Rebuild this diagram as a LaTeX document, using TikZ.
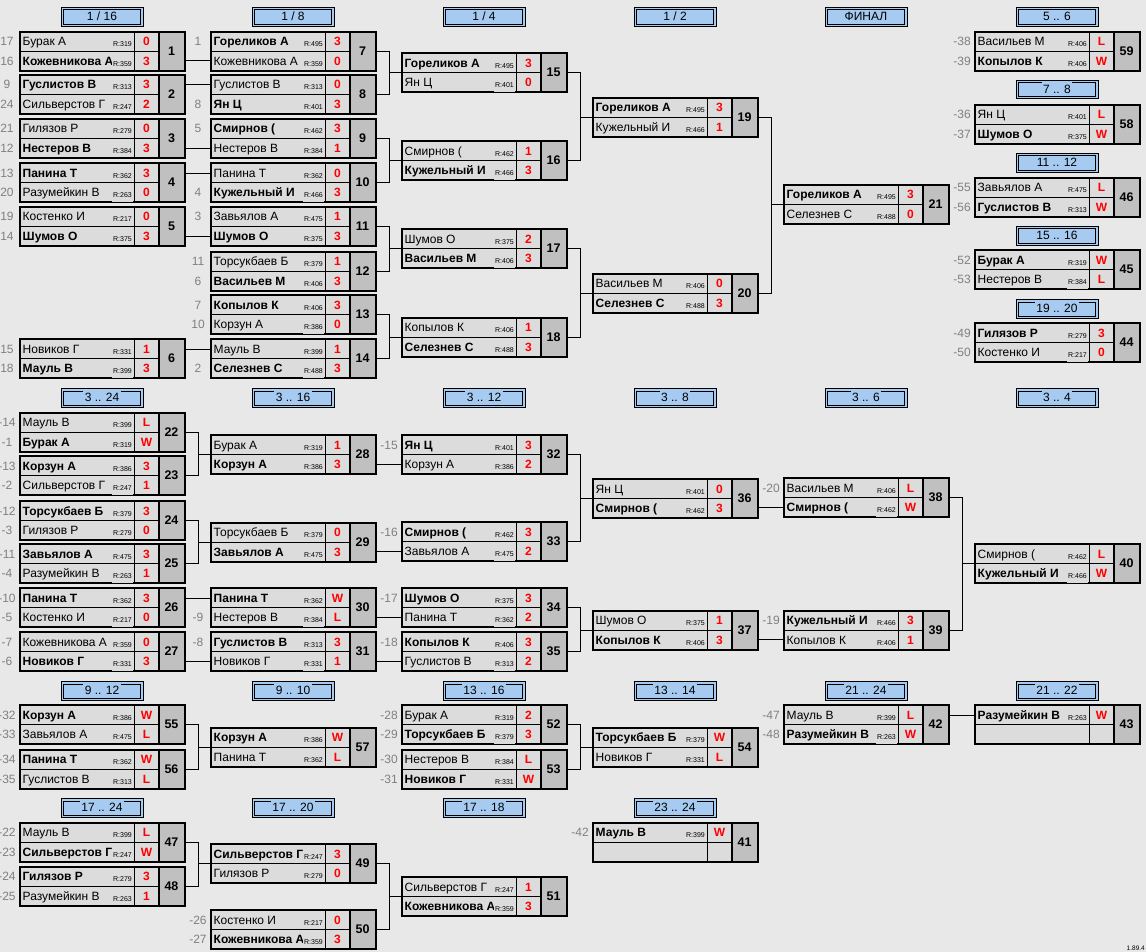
\documentclass[tikz,border=0pt]{standalone}
\usepackage{fontspec}
\setmainfont{Liberation Sans}
\definecolor{bgc}{RGB}{232,232,232}
\definecolor{cellc}{RGB}{220,220,220}
\definecolor{numc}{RGB}{192,192,192}
\definecolor{hblue}{RGB}{166,202,240}
\definecolor{seedgray}{RGB}{128,128,128}
\definecolor{scorered}{RGB}{255,0,0}
\tikzset{
  connline/.style={line width=1pt},
  mbox/.style={draw, line width=2pt, minimum width=165pt, minimum height=39pt, inner sep=0pt, outer sep=0pt, anchor=north west},
  namer/.style={anchor=base west, inner sep=0pt, font=\fontsize{12}{14}\selectfont},
  nameb/.style={anchor=base west, inner sep=0pt, font=\fontsize{12}{14}\selectfont\bfseries},
  ratet/.style={anchor=base east, inner sep=0pt, font=\fontsize{7}{8}\selectfont},
  scoret/.style={anchor=base, inner sep=0pt, text=scorered, font=\fontsize{12}{14}\selectfont\bfseries},
  seedt/.style={anchor=base, inner sep=0pt, text=seedgray, font=\fontsize{12}{14}\selectfont},
  numt/.style={anchor=base, inner sep=0pt, font=\fontsize{12.5}{14}\selectfont\bfseries},
  hdrbox/.style={draw, fill=hblue, line width=1pt, minimum width=82pt, minimum height=18.5pt, inner sep=0pt, outer sep=0pt},
  hdrtxt/.style={anchor=base, fill=hblue, inner xsep=1.5pt, inner ysep=0pt, text height=11pt, text depth=1pt, font=\fontsize{12}{14}\selectfont},
}
\newcommand\MBox[3]{%
  \fill[cellc] (#2,#3) rectangle ++(139,39);
  \fill[numc] (#2+139,#3) rectangle ++(26,39);
  \draw[line width=1pt] (#2,#3+19.5) -- ++(139,0);
  \draw[line width=1pt] (#2+114,#3) -- ++(0,39);
  \draw[line width=2pt] (#2+139,#3) -- ++(0,39);
  \node[mbox] (m#1) at (#2,#3) {};
  \coordinate (m#1r1) at (#2,#3+9.75);
  \coordinate (m#1r2) at (#2,#3+29.25);
  \node[numt] (m#1n) at (#2+151.5,#3+23.6) {#1};
}
\newcommand\MRow[8]{%
  \node[#5] (t#1) at (#2+2.5,#3+14) {#6};
  \fill[cellc] (#2+92,#3+1.2) rectangle (#2+113.4,#3+18.8);
  \node[ratet] (r#1) at (#2+112,#3+15) {#7};
  \node[scoret] (s#1) at (#2+126.5,#3+14) {#8};
  \node[seedt] (d#1) at (#2-13,#3+14) {#4};
}
\newcommand\Match[3]{\def\curid{#1}\def\curx{#2}\def\cury{#3}\MBox{#1}{#2}{#3}}
\newcommand\RowA[5]{\MRow{\curid a}{\curx}{\cury}{#1}{#2}{#3}{#4}{#5}}
\newcommand\RowB[5]{\MRow{\curid b}{\curx}{\cury+19.5}{#1}{#2}{#3}{#4}{#5}}
\newcommand\Hdr[4]{%
  \node[hdrbox] (h#1) at (#2,#3+9.75) {};
  \draw[line width=1pt] (#2-38.8,#3+2.7) rectangle (#2+38.8,#3+16.8);
  \node[hdrtxt] (ht#1) at (#2,#3+13.4) {#4};
}
\newcommand\Straight[3]{\draw[connline] (m#1.east |- m#2r#3) -- (m#2r#3);}
\newcommand\Bracket[3]{\draw[connline] (m#1.east) -- ++(13,0) coordinate (k#3) |- (m#2.east);
  \draw[connline] (k#3 |- m#3.west) -- (m#3.west);}
\begin{document}
\begin{tikzpicture}[x=1pt,y=-1pt]
\useasboundingbox (0,0) rectangle (1146,952);
\fill[bgc] (0,0) rectangle (1146,952);
% headers
\Hdr{a1}{102}{7.3}{1 / 16}
\Hdr{a2}{293}{7.3}{1 / 8}
\Hdr{a3}{484}{7.3}{1 / 4}
\Hdr{a4}{675}{7.3}{1 / 2}
\Hdr{a5}{866}{7.3}{ФИНАЛ}
\Hdr{a6}{1057}{7.3}{5 .. 6}
\Hdr{r2}{1057}{80}{7 .. 8}
\Hdr{r3}{1057}{153.3}{11 .. 12}
\Hdr{r4}{1057}{226.3}{15 .. 16}
\Hdr{r5}{1057}{299.3}{19 .. 20}
\Hdr{b1}{102}{388.3}{3 .. 24}
\Hdr{b2}{293}{388.3}{3 .. 16}
\Hdr{b3}{484}{388.3}{3 .. 12}
\Hdr{b4}{675}{388.3}{3 .. 8}
\Hdr{b5}{866}{388.3}{3 .. 6}
\Hdr{b6}{1057}{388.3}{3 .. 4}
\Hdr{c1}{102}{681.3}{9 .. 12}
\Hdr{c2}{293}{681.3}{9 .. 10}
\Hdr{c3}{484}{681.3}{13 .. 16}
\Hdr{c4}{675}{681.3}{13 .. 14}
\Hdr{c5}{866}{681.3}{21 .. 24}
\Hdr{c6}{1057}{681.3}{21 .. 22}
\Hdr{d1}{102}{798.3}{17 .. 24}
\Hdr{d2}{293}{798.3}{17 .. 20}
\Hdr{d3}{484}{798.3}{17 .. 18}
\Hdr{d4}{675}{798.3}{23 .. 24}
% upper bracket
\Match{1}{20}{31.7}
\RowA{17}{namer}{Бурак А}{R:319}{0}
\RowB{16}{nameb}{Кожевникова А}{R:359}{3}
\Match{2}{20}{75}
\RowA{9}{nameb}{Гуслистов В}{R:313}{3}
\RowB{24}{namer}{Сильверстов Г}{R:247}{2}
\Match{3}{20}{119}
\RowA{21}{namer}{Гилязов Р}{R:279}{0}
\RowB{12}{nameb}{Нестеров В}{R:384}{3}
\Match{4}{20}{163.3}
\RowA{13}{nameb}{Панина Т}{R:362}{3}
\RowB{20}{namer}{Разумейкин В}{R:263}{0}
\Match{5}{20}{207}
\RowA{19}{namer}{Костенко И}{R:217}{0}
\RowB{14}{nameb}{Шумов О}{R:375}{3}
\Match{6}{20}{339.3}
\RowA{15}{namer}{Новиков Г}{R:331}{1}
\RowB{18}{nameb}{Мауль В}{R:399}{3}
\Match{7}{211}{31.7}
\RowA{1}{nameb}{Гореликов А}{R:495}{3}
\RowB{}{namer}{Кожевникова А}{R:359}{0}
\Match{8}{211}{75}
\RowA{}{namer}{Гуслистов В}{R:313}{0}
\RowB{8}{nameb}{Ян Ц}{R:401}{3}
\Match{9}{211}{119}
\RowA{5}{nameb}{Смирнов (}{R:462}{3}
\RowB{}{namer}{Нестеров В}{R:384}{1}
\Match{10}{211}{163.3}
\RowA{}{namer}{Панина Т}{R:362}{0}
\RowB{4}{nameb}{Кужельный И}{R:466}{3}
\Match{11}{211}{207}
\RowA{3}{namer}{Завьялов А}{R:475}{1}
\RowB{}{nameb}{Шумов О}{R:375}{3}
\Match{12}{211}{251.7}
\RowA{11}{namer}{Торсукбаев Б}{R:379}{1}
\RowB{6}{nameb}{Васильев М}{R:406}{3}
\Match{13}{211}{295.3}
\RowA{7}{nameb}{Копылов К}{R:406}{3}
\RowB{10}{namer}{Корзун А}{R:386}{0}
\Match{14}{211}{339.3}
\RowA{}{namer}{Мауль В}{R:399}{1}
\RowB{2}{nameb}{Селезнев С}{R:488}{3}
\Match{15}{402}{53.3}
\RowA{}{nameb}{Гореликов А}{R:495}{3}
\RowB{}{namer}{Ян Ц}{R:401}{0}
\Match{16}{402}{141.3}
\RowA{}{namer}{Смирнов (}{R:462}{1}
\RowB{}{nameb}{Кужельный И}{R:466}{3}
\Match{17}{402}{229.3}
\RowA{}{namer}{Шумов О}{R:375}{2}
\RowB{}{nameb}{Васильев М}{R:406}{3}
\Match{18}{402}{317.7}
\RowA{}{namer}{Копылов К}{R:406}{1}
\RowB{}{nameb}{Селезнев С}{R:488}{3}
\Match{19}{593}{97.7}
\RowA{}{nameb}{Гореликов А}{R:495}{3}
\RowB{}{namer}{Кужельный И}{R:466}{1}
\Match{20}{593}{273.7}
\RowA{}{namer}{Васильев М}{R:406}{0}
\RowB{}{nameb}{Селезнев С}{R:488}{3}
\Match{21}{784}{185}
\RowA{}{nameb}{Гореликов А}{R:495}{3}
\RowB{}{namer}{Селезнев С}{R:488}{0}
% right column
\Match{59}{975}{31.7}
\RowA{-38}{namer}{Васильев М}{R:406}{L}
\RowB{-39}{nameb}{Копылов К}{R:406}{W}
\Match{58}{975}{104.7}
\RowA{-36}{namer}{Ян Ц}{R:401}{L}
\RowB{-37}{nameb}{Шумов О}{R:375}{W}
\Match{46}{975}{177.7}
\RowA{-55}{namer}{Завьялов А}{R:475}{L}
\RowB{-56}{nameb}{Гуслистов В}{R:313}{W}
\Match{45}{975}{250.3}
\RowA{-52}{nameb}{Бурак А}{R:319}{W}
\RowB{-53}{namer}{Нестеров В}{R:384}{L}
\Match{44}{975}{323.3}
\RowA{-49}{nameb}{Гилязов Р}{R:279}{3}
\RowB{-50}{namer}{Костенко И}{R:217}{0}
% section 3..24
\Match{22}{20}{412.7}
\RowA{-14}{namer}{Мауль В}{R:399}{L}
\RowB{-1}{nameb}{Бурак А}{R:319}{W}
\Match{23}{20}{456.3}
\RowA{-13}{nameb}{Корзун А}{R:386}{3}
\RowB{-2}{namer}{Сильверстов Г}{R:247}{1}
\Match{24}{20}{501}
\RowA{-12}{nameb}{Торсукбаев Б}{R:379}{3}
\RowB{-3}{namer}{Гилязов Р}{R:279}{0}
\Match{25}{20}{544.3}
\RowA{-11}{nameb}{Завьялов А}{R:475}{3}
\RowB{-4}{namer}{Разумейкин В}{R:263}{1}
\Match{26}{20}{588.3}
\RowA{-10}{nameb}{Панина Т}{R:362}{3}
\RowB{-5}{namer}{Костенко И}{R:217}{0}
\Match{27}{20}{632.3}
\RowA{-7}{namer}{Кожевникова А}{R:359}{0}
\RowB{-6}{nameb}{Новиков Г}{R:331}{3}
\Match{28}{211}{435}
\RowA{}{namer}{Бурак А}{R:319}{1}
\RowB{}{nameb}{Корзун А}{R:386}{3}
\Match{29}{211}{522.7}
\RowA{}{namer}{Торсукбаев Б}{R:379}{0}
\RowB{}{nameb}{Завьялов А}{R:475}{3}
\Match{30}{211}{588.3}
\RowA{}{nameb}{Панина Т}{R:362}{W}
\RowB{-9}{namer}{Нестеров В}{R:384}{L}
\Match{31}{211}{632.3}
\RowA{-8}{nameb}{Гуслистов В}{R:313}{3}
\RowB{}{namer}{Новиков Г}{R:331}{1}
\Match{32}{402}{435}
\RowA{-15}{nameb}{Ян Ц}{R:401}{3}
\RowB{}{namer}{Корзун А}{R:386}{2}
\Match{33}{402}{522.3}
\RowA{-16}{nameb}{Смирнов (}{R:462}{3}
\RowB{}{namer}{Завьялов А}{R:475}{2}
\Match{34}{402}{588.3}
\RowA{-17}{nameb}{Шумов О}{R:375}{3}
\RowB{}{namer}{Панина Т}{R:362}{2}
\Match{35}{402}{632.3}
\RowA{-18}{nameb}{Копылов К}{R:406}{3}
\RowB{}{namer}{Гуслистов В}{R:313}{2}
\Match{36}{593}{479}
\RowA{}{namer}{Ян Ц}{R:401}{0}
\RowB{}{nameb}{Смирнов (}{R:462}{3}
\Match{37}{593}{610.7}
\RowA{}{namer}{Шумов О}{R:375}{1}
\RowB{}{nameb}{Копылов К}{R:406}{3}
\Match{38}{784}{478.3}
\RowA{-20}{namer}{Васильев М}{R:406}{L}
\RowB{}{nameb}{Смирнов (}{R:462}{W}
\Match{39}{784}{610.7}
\RowA{-19}{nameb}{Кужельный И}{R:466}{3}
\RowB{}{namer}{Копылов К}{R:406}{1}
\Match{40}{975}{544.3}
\RowA{}{namer}{Смирнов (}{R:462}{L}
\RowB{}{nameb}{Кужельный И}{R:466}{W}
% section 9..24
\Match{55}{20}{705}
\RowA{-32}{nameb}{Корзун А}{R:386}{W}
\RowB{-33}{namer}{Завьялов А}{R:475}{L}
\Match{56}{20}{749.7}
\RowA{-34}{nameb}{Панина Т}{R:362}{W}
\RowB{-35}{namer}{Гуслистов В}{R:313}{L}
\Match{57}{211}{727.7}
\RowA{}{nameb}{Корзун А}{R:386}{W}
\RowB{}{namer}{Панина Т}{R:362}{L}
\Match{52}{402}{705.3}
\RowA{-28}{namer}{Бурак А}{R:319}{2}
\RowB{-29}{nameb}{Торсукбаев Б}{R:379}{3}
\Match{53}{402}{749.7}
\RowA{-30}{namer}{Нестеров В}{R:384}{L}
\RowB{-31}{nameb}{Новиков Г}{R:331}{W}
\Match{54}{593}{727.7}
\RowA{}{nameb}{Торсукбаев Б}{R:379}{W}
\RowB{}{namer}{Новиков Г}{R:331}{L}
\Match{42}{784}{705.3}
\RowA{-47}{namer}{Мауль В}{R:399}{L}
\RowB{-48}{nameb}{Разумейкин В}{R:263}{W}
\Match{43}{975}{705.3}
\RowA{}{nameb}{Разумейкин В}{R:263}{W}
% section 17..24
\Match{47}{20}{822.7}
\RowA{-22}{namer}{Мауль В}{R:399}{L}
\RowB{-23}{nameb}{Сильверстов Г}{R:247}{W}
\Match{48}{20}{866.7}
\RowA{-24}{nameb}{Гилязов Р}{R:279}{3}
\RowB{-25}{namer}{Разумейкин В}{R:263}{1}
\Match{49}{211}{844}
\RowA{}{nameb}{Сильверстов Г}{R:247}{3}
\RowB{}{namer}{Гилязов Р}{R:279}{0}
\Match{50}{211}{910}
\RowA{-26}{namer}{Костенко И}{R:217}{0}
\RowB{-27}{nameb}{Кожевникова А}{R:359}{3}
\Match{51}{402}{877}
\RowA{}{namer}{Сильверстов Г}{R:247}{1}
\RowB{}{nameb}{Кожевникова А}{R:359}{3}
\Match{41}{593}{822.7}
\RowA{-42}{nameb}{Мауль В}{R:399}{W}
% connectors
\Straight{1}{7}{2}
\Straight{2}{8}{1}
\Straight{3}{9}{2}
\Straight{4}{10}{1}
\Straight{5}{11}{2}
\Straight{6}{14}{1}
\Bracket{7}{8}{15}
\Bracket{9}{10}{16}
\Bracket{11}{12}{17}
\Bracket{13}{14}{18}
\Bracket{15}{16}{19}
\Bracket{17}{18}{20}
\Bracket{19}{20}{21}
\Bracket{22}{23}{28}
\Bracket{24}{25}{29}
\Straight{26}{30}{1}
\Straight{27}{31}{2}
\Straight{28}{32}{2}
\Straight{29}{33}{2}
\Straight{30}{34}{2}
\Straight{31}{35}{2}
\Bracket{32}{33}{36}
\Bracket{34}{35}{37}
\Straight{36}{38}{2}
\Straight{37}{39}{2}
\Bracket{38}{39}{40}
\Bracket{55}{56}{57}
\Bracket{52}{53}{54}
\Straight{42}{43}{1}
\Bracket{47}{48}{49}
\Bracket{49}{50}{51}
\node[anchor=base east, inner sep=0pt, font=\fontsize{6.5}{7}\selectfont] (ver) at (1145,950) {1.89.4};
\end{tikzpicture}
\end{document}
